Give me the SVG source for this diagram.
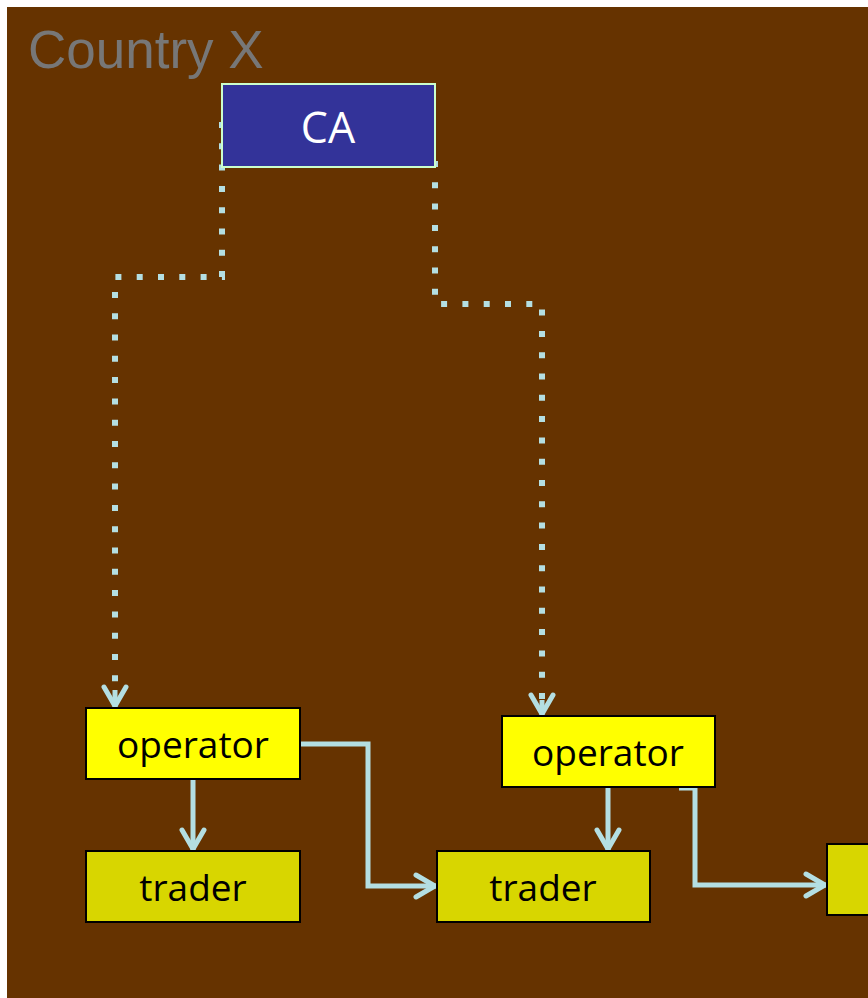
<svg xmlns="http://www.w3.org/2000/svg" width="868" height="998" viewBox="0 0 868 998">
<defs>
<style>
.op{fill:#ffff00;stroke:#000;stroke-width:2}
.tr{fill:#d8d600;stroke:#000;stroke-width:2}
.lbl{font-family:"Open Sans","Liberation Sans",sans-serif;font-size:37px;fill:#000;text-anchor:middle}
.solid{fill:none;stroke:#b4dfe2;stroke-width:5}
.dot{fill:none;stroke:#b4dfe2;stroke-width:6;stroke-dasharray:6 15.3}
</style>
<marker id="ah" viewBox="0 0 26 28" markerWidth="26" markerHeight="28" refX="23" refY="14" orient="auto" markerUnits="userSpaceOnUse">
<path d="M3,3 L22,14 L3,25" fill="none" stroke="#b4dfe2" stroke-width="5" stroke-linecap="round" stroke-linejoin="miter"/>
</marker>
</defs>
<rect x="0" y="0" width="868" height="998" fill="#ffffff"/>
<rect x="7" y="7" width="861" height="991" fill="#663300"/>
<text x="28" y="68" font-family="Liberation Sans, Arial, sans-serif" font-size="53" fill="#777777">Country X</text>
<g id="connectors">
<path class="dot" d="M222,122 V277 H115 V690"/>
<path d="M115,690 V707" class="solid" marker-end="url(#ah)" stroke="none"/>
<path class="dot" d="M435,161 V304 H542 V700"/>
<path d="M542,700 V715" class="solid" marker-end="url(#ah)" stroke="none"/>
<path class="solid" d="M193,780 V850" marker-end="url(#ah)"/>
<path class="solid" d="M300,744 H368 V886 H436" marker-end="url(#ah)"/>
<path class="solid" d="M608,788 V850" marker-end="url(#ah)"/>
<path class="solid" d="M679,788 H695 V885 H826" marker-end="url(#ah)"/>
</g>
<g id="ca">
<rect x="222" y="84" width="213" height="83" fill="#333399" stroke="#ccffcc" stroke-width="2"/>
<text x="328" y="143" font-family="Open Sans, Liberation Sans, sans-serif" font-size="43" fill="#ffffff" text-anchor="middle">CA</text>
</g>
<g id="operator1">
<rect class="op" x="86" y="708" width="214" height="71"/>
<text class="lbl" x="193" y="758">operator</text>
</g>
<g id="operator2">
<rect class="op" x="502" y="716" width="213" height="71"/>
<text class="lbl" x="608" y="766">operator</text>
</g>
<g id="trader1">
<rect class="tr" x="86" y="851" width="214" height="71"/>
<text class="lbl" x="193" y="901">trader</text>
</g>
<g id="trader2">
<rect class="tr" x="437" y="851" width="213" height="71"/>
<text class="lbl" x="543" y="901">trader</text>
</g>
<g id="trader3">
<rect class="tr" x="827" y="844" width="60" height="71"/>
</g>
</svg>
